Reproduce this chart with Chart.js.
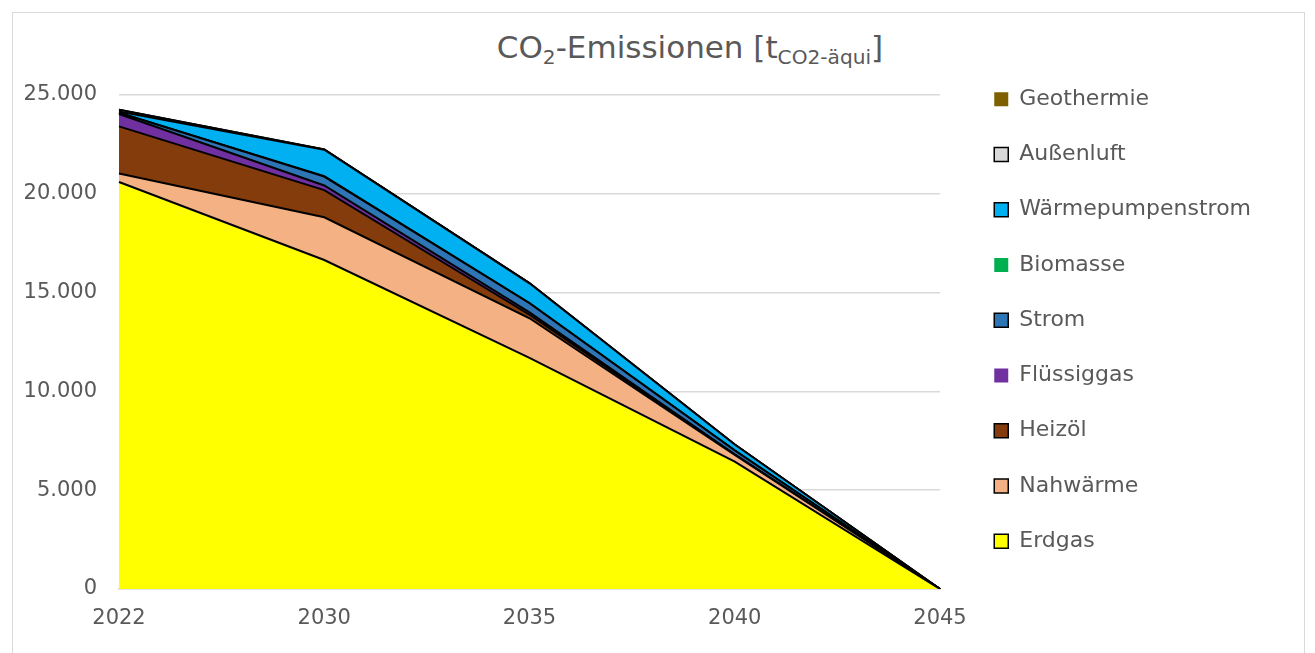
<!DOCTYPE html>
<html>
<head>
<meta charset="utf-8">
<script src="https://cdn.jsdelivr.net/npm/chart.js@4/dist/chart.umd.min.js"></script>
<style>
  html, body { margin: 0; padding: 0; background: #fff; }
  #wrap { position: relative; width: 1315px; height: 653px; overflow: hidden; }
  #frame { position: absolute; left: 12px; top: 12px; width: 1293px; height: 700px; border: 1px solid #d9d9d9; box-sizing: border-box; }
  #title { position: absolute; left: 690px; top: 32px; transform: translateX(-50%); white-space: nowrap;
           font-family: 'DejaVu Sans', sans-serif; font-size: 31px; line-height: 1; color: #595959; }
  #title sub { font-size: 65%; vertical-align: baseline; position: relative; top: 0.3em; }
  canvas { position: absolute; left: 0; top: 0; }
</style>
</head>
<body>
<div id="wrap">
  <div id="frame"></div>
  <div id="title">CO<sub>2</sub>-Emissionen [t<sub>CO2-äqui</sub>]</div>
  <canvas id="chart" width="1315" height="653"></canvas>
</div>
<script>
// years on the x axis
const years = ['2022', '2030', '2035', '2040', '2045'];

// emissions per energy source, t CO2-equivalent
const erdgas            = [20600, 16650, 11700, 6450, 0];
const nahwaerme         = [430, 2160, 2000, 330, 0];
const heizoel           = [2380, 1380, 180, 20, 0];
const fluessiggas       = [630, 230, 120, 10, 0];
const strom             = [60, 450, 460, 200, 0];
const biomasse          = [10, 20, 10, 5, 0];
const waermepumpenstrom = [60, 1340, 1000, 300, 0];
const aussenluft        = [80, 10, 5, 0, 0];
const geothermie        = [10, 10, 5, 0, 0];

// y axis ticks
const yTicks = [0, 5000, 10000, 15000, 20000, 25000];

const seriesNames  = ['Erdgas', 'Nahwärme', 'Heizöl', 'Flüssiggas', 'Strom', 'Biomasse', 'Wärmepumpenstrom', 'Außenluft', 'Geothermie'];
const seriesData   = [erdgas, nahwaerme, heizoel, fluessiggas, strom, biomasse, waermepumpenstrom, aussenluft, geothermie];
const seriesColors = ['#FFFF00', '#F4B183', '#843C0C', '#7030A0', '#2E75B6', '#00B050', '#00B0F0', '#D9D9D9', '#7F6000'];
// the legend boxes of these have no outline
const noLegendBorder = ['Flüssiggas', 'Biomasse', 'Geothermie'];

const fmt = v => String(v).replace(/\B(?=(\d{3})+(?!\d))/g, '.');

const datasets = seriesNames.map((name, i) => ({
    label: name,
    data: seriesData[i],
    backgroundColor: seriesColors[i],
    borderColor: '#000',
    borderWidth: 2,
    fill: i === 0 ? 'origin' : '-1',
    pointRadius: 0,
    pointHoverRadius: 0,
    tension: 0
}));

// fixed legend column on the right
const legendBox = {
    id: 'legendBox',
    beforeLayout(chart) {
        const lg = chart.legend;
        if (lg && !lg._fixed) {
            const fit = lg.fit;
            lg.fit = function () { fit.call(this); this.width = 375; };
            lg._fixed = true;
        }
    },
    afterLayout(chart) {
        const lg = chart.legend;
        lg.left = 961;
        lg.top = 55;
    }
};

Chart.defaults.font.family = "'DejaVu Sans', sans-serif";
Chart.defaults.color = '#595959';

new Chart(document.getElementById('chart'), {
    type: 'line',
    data: { labels: years, datasets: datasets },
    plugins: [legendBox],
    options: {
        responsive: false,
        animation: false,
        layout: { padding: { top: 95, left: 0, right: 0, bottom: 0 } },
        plugins: {
            title: { display: false },
            tooltip: { enabled: false },
            legend: {
                position: 'right',
                align: 'start',
                reverse: true,
                labels: {
                    boxWidth: 14,
                    boxHeight: 14,
                    padding: 33.25,
                    color: '#595959',
                    font: { size: 22 },
                    generateLabels(chart) {
                        const items = Chart.defaults.plugins.legend.labels.generateLabels(chart);
                        items.forEach(it => {
                            const name = chart.data.datasets[it.datasetIndex].label;
                            it.strokeStyle = '#000';
                            it.lineWidth = noLegendBorder.includes(name) ? 0 : 1.5;
                        });
                        return items;
                    }
                }
            }
        },
        scales: {
            x: {
                offset: false,
                ticks: { color: '#595959', font: { size: 21 }, padding: 17, maxRotation: 0, autoSkip: false },
                grid: { display: false, drawTicks: false },
                border: { display: true, color: '#d9d9d9', width: 1.5 },
                afterFit(scale) { scale.height = 64; }
            },
            y: {
                stacked: true,
                min: 0,
                max: 25000,
                afterBuildTicks(scale) { scale.ticks = yTicks.map(v => ({ value: v })); },
                ticks: { color: '#595959', font: { size: 21 }, padding: 22, callback: v => fmt(v) },
                grid: { color: '#d9d9d9', lineWidth: 1.5, drawTicks: false },
                border: { display: false },
                afterFit(scale) { scale.width = 119; }
            }
        }
    }
});
</script>
</body>
</html>
